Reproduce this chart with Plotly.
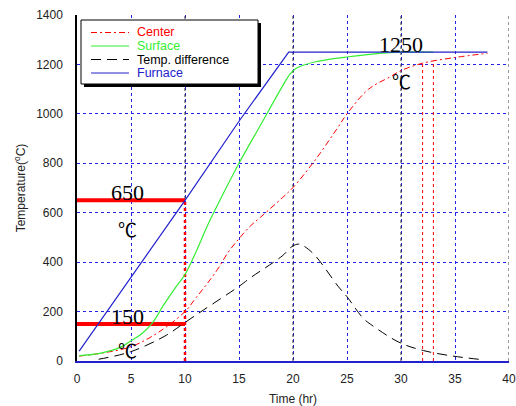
import plotly.graph_objects as go

# ---- data ----
time_center = [0.2, 2, 5, 7.5, 10, 11, 12, 13, 14, 15, 16, 17, 19, 20, 22, 24, 25, 27, 29, 30, 32, 35, 38]
center = [20, 30, 58, 115, 200, 255, 310, 370, 440, 495, 544, 582, 660, 702, 810, 935, 1000, 1100, 1150, 1175, 1205, 1228, 1245]

time_surface = [0.2, 2, 4, 5, 6, 7, 8, 9, 10, 11, 12, 13, 15, 17, 19, 19.7, 20.3, 22, 25, 28, 30, 33]
surface = [22, 30, 55, 82, 110, 155, 225, 290, 350, 440, 540, 630, 800, 955, 1110, 1160, 1185, 1210, 1230, 1245, 1250, 1250]

time_diff = [2, 5, 8.3, 9.8, 11.7, 15.1, 16, 19, 19.9, 20.5, 21, 22, 24.2, 25, 26.5, 27.4, 29.9, 32.1, 34.8, 37.2]
temp_diff = [7, 38, 105, 150, 206, 305, 335, 425, 463, 473, 465, 429, 301, 260, 173, 142, 74, 42, 20, 7]

time_furnace = [0.2, 5, 10, 15, 19.6, 38]
furnace = [40, 340, 650, 970, 1250, 1250]

hold_time = 10
hold_temps = [650, 150]
soak_times = [32, 33]
soak_temps = [1205, 1215]

x_ticks = [0, 5, 10, 15, 20, 25, 30, 35, 40]
y_ticks = [0, 200, 400, 600, 800, 1000, 1200, 1400]

value_labels = [("650", 4.7, 682), ("150", 4.7, 181), ("1250", 30.0, 1280)]
unit_labels = [("℃", 4.7, 535), ("℃", 4.7, 48), ("℃", 30.0, 1137)]

series_names = ["Center", "Surface", "Temp. difference", "Furnace"]

RED = "#ff0000"
GREEN = "#33ee33"
BLUE = "#2222cc"
series_colors = [RED, GREEN, "#000000", BLUE]
series_dash = ["6px,3px,2px,3px", "solid", "10px,6px", "solid"]
series_width = [1, 1.2, 1, 1.2]

fig = go.Figure()

# red marker lines
for t in hold_temps:
    fig.add_trace(go.Scatter(x=[0, hold_time], y=[t, t], mode="lines",
                             line=dict(color=RED, width=4), showlegend=False, hoverinfo="skip"))
fig.add_trace(go.Scatter(x=[hold_time, hold_time], y=[0, max(hold_temps)], mode="lines",
                         line=dict(color=RED, width=2.5, dash="dot"), showlegend=False, hoverinfo="skip"))
for st, sv in zip(soak_times, soak_temps):
    fig.add_trace(go.Scatter(x=[st, st], y=[0, sv], mode="lines",
                             line=dict(color=RED, width=1, dash="dot"), showlegend=False, hoverinfo="skip"))

series = [(time_center, center, "spline"), (time_surface, surface, "spline"),
          (time_diff, temp_diff, "spline"), (time_furnace, furnace, "linear")]
for (xs, ys, shape), nm, col, dsh, w in zip(series, series_names, series_colors, series_dash, series_width):
    fig.add_trace(go.Scatter(x=xs, y=ys, mode="lines", line_shape=shape, name=nm,
                             line=dict(color=col, width=w, dash=dsh), showlegend=False))

for txt, lx, ly in value_labels:
    fig.add_annotation(x=lx, y=ly, text=txt, showarrow=False,
                       font=dict(family="Liberation Serif", size=22, color="black"))
for txt, lx, ly in unit_labels:
    fig.add_annotation(x=lx, y=ly, text=txt, showarrow=False,
                       font=dict(family="Noto Sans CJK JP", size=19, color="black"))

# black dotted gridlines at multiples of 10
for gx in [10, 20, 30, 40]:
    fig.add_shape(type="line", x0=gx, x1=gx, y0=0, y1=1400, xref="x", yref="y",
                  layer="between", line=dict(color="#333333", width=1, dash="dot"))

# manual legend (pixel -> paper)
L, B, W, H = 77, 361, 432, 346
def px(xp):
    return (xp - L) / W
def py(yp):
    return (B - yp) / H

fig.add_shape(type="rect", xref="paper", yref="paper", x0=px(84), x1=px(261), y0=py(87), y1=py(23),
              fillcolor="black", line=dict(width=0), layer="above")
fig.add_shape(type="rect", xref="paper", yref="paper", x0=px(81), x1=px(258), y0=py(84), y1=py(20),
              fillcolor="white", line=dict(color="black", width=1), layer="above")
row_y = [32.5, 46, 59.5, 73]
for ry, nm, col, dsh in zip(row_y, series_names, series_colors, series_dash):
    fig.add_shape(type="line", xref="paper", yref="paper", x0=px(91), x1=px(129), y0=py(ry), y1=py(ry),
                  line=dict(color=col, width=1.2, dash=dsh), layer="above")
    fig.add_annotation(xref="paper", yref="paper", x=px(135), y=py(ry), text=nm, showarrow=False,
                       xanchor="left", yanchor="middle",
                       font=dict(family="Liberation Sans", size=12.5, color=col))

fig.update_layout(
    width=516, height=406,
    margin=dict(l=77, r=7, t=15, b=45),
    paper_bgcolor="white", plot_bgcolor="white",
    font=dict(family="Liberation Sans", size=12, color="#222222"),
    showlegend=False,
    xaxis=dict(range=[0, 40], tickvals=x_ticks, showgrid=True, gridcolor="#2222ee",
               griddash="dot", gridwidth=1, zeroline=False, showline=True, automargin=False,
               linecolor="#2222cc", linewidth=1.5, ticks="", ticklabelstandoff=6,
               title=dict(text="Time (hr)", font=dict(size=12), standoff=14)),
    yaxis=dict(range=[0, 1400], tickvals=y_ticks, showgrid=True, gridcolor="#2222ee",
               griddash="dot", gridwidth=1, zeroline=False, showline=True, automargin=False,
               linecolor="black", linewidth=1.5, ticks="", ticklabelstandoff=10,
               title=dict(text="Temperature(<sup>o</sup>C)", font=dict(size=12), standoff=8)),
)

fig.write_html("out.html")
